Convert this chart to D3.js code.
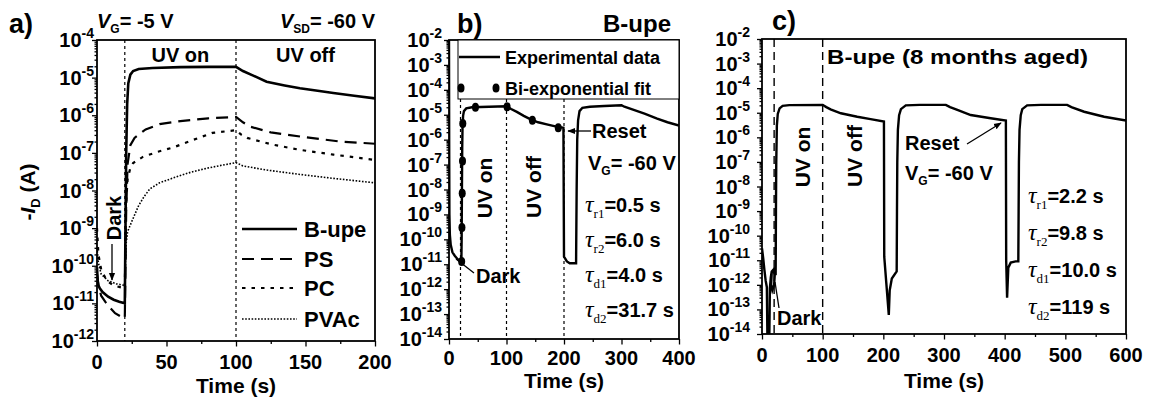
<!DOCTYPE html>
<html><head><meta charset="utf-8">
<script src="https://cdn.jsdelivr.net/npm/d3@7"></script>
<style>
body{margin:0;background:#fff}
svg{display:block}
text{font-family:"Liberation Sans",Arial,sans-serif;font-weight:bold;fill:#000}
.tau{font-family:"Liberation Serif","Times New Roman",serif;font-style:italic;font-weight:normal}
.ser{font-family:"Liberation Serif","Times New Roman",serif;font-weight:normal}
</style>
</head><body>
<svg id="chart" width="1154" height="397"></svg>
<script>
// ---------------- DATA ----------------
const seriesNames = ["B-upe", "PS", "PC", "PVAc"];
const aXTicks = [0, 50, 100, 150, 200];
const bXTicks = [0, 100, 200, 300, 400];
const cXTicks = [0, 100, 200, 300, 400, 500, 600];
const aYExp = [-12, -11, -10, -9, -8, -7, -6, -5, -4];
const bYExp = [-14, -13, -12, -11, -10, -9, -8, -7, -6, -5, -4, -3, -2];
const cYExp = [-14, -13, -12, -11, -10, -9, -8, -7, -6, -5, -4, -3, -2];

const aBupe = [[0,9e-11],[0.5,4e-11],[1,3e-11],[2,2.5e-11],[4,2e-11],[8,1.5e-11],[12,1.25e-11],[16,1.1e-11],[20,1e-11],[20.5,1e-9],[21,1e-7],[21.7,2e-6],[22.5,7e-6],[24,1.2e-5],[26,1.5e-5],[30,1.7e-5],[40,1.8e-5],[60,1.9e-5],[80,1.93e-5],[100,1.93e-5],[105,1.5e-5],[112,1.15e-5],[122,7.8e-6],[135,6.2e-6],[146,5.2e-6],[160,4.4e-6],[170,3.9e-6],[185,3.3e-6],[200,2.8e-6]];
const aPS = [[0,6e-11],[1,3e-11],[3,1.6e-11],[6,1.1e-11],[9,8e-12],[13,5.5e-12],[17,4.5e-12],[20,4e-12],[20.5,1e-10],[21,3e-9],[22,5e-8],[24,1.6e-7],[27,2.5e-7],[35,4.2e-7],[45,5.8e-7],[60,7e-7],[80,8.3e-7],[100,9e-7],[105,6.5e-7],[110,5e-7],[125,3.5e-7],[150,2.6e-7],[175,2e-7],[200,1.75e-7]];
const aPC = [[0,1e-9],[1,2e-10],[3,8e-11],[7,4e-11],[12,3e-11],[20,2.5e-11],[20.5,5e-10],[21,5e-9],[22,2e-8],[24,4e-8],[26,5.4e-8],[33,7.8e-8],[43,1.05e-7],[55,1.4e-7],[69,2.2e-7],[83,3.4e-7],[100,4e-7],[104,3e-7],[108,2.5e-7],[125,1.7e-7],[146,1.2e-7],[170,9e-8],[200,6.5e-8]];
const aPVAc = [[0,3e-10],[1,1.2e-10],[3,6e-11],[8,4e-11],[14,3.3e-11],[20,3e-11],[20.5,1.5e-10],[21,4e-10],[22,8e-10],[25,1.5e-9],[30,4e-9],[34,7e-9],[38,1.1e-8],[45,1.6e-8],[57,2.3e-8],[68,3.1e-8],[79,3.9e-8],[90,4.7e-8],[100,5.5e-8],[105,4.5e-8],[122,3.5e-8],[145,2.7e-8],[170,2.1e-8],[200,1.6e-8]];

const bExp = [[0,1e-2],[0.3,1e-6],[0.7,1e-9],[1.5,1.5e-10],[3,6e-11],[6,3e-11],[10,2.2e-11],[15,1.6e-11],[21.5,1.2e-11],[22,1e-10],[22.5,1e-8],[23,5e-7],[23.5,3e-6],[24.5,9e-6],[26,1.4e-5],[30,1.8e-5],[40,2e-5],[70,2.1e-5],[100,2.2e-5],[108,1.7e-5],[118,1.3e-5],[130,9e-6],[142,6.5e-6],[155,5e-6],[170,4.1e-6],[185,3.4e-6],[199,3e-6],[200,2e-11],[205,1.3e-11],[210,1.1e-11],[221,1.1e-11],[222,1e-8],[223,1e-6],[224.5,6e-6],[227,1.4e-5],[232,1.9e-5],[245,2.1e-5],[270,2.25e-5],[300,2.4e-5],[305,2.1e-5],[320,1.6e-5],[340,1.1e-5],[362,7e-6],[380,5e-6],[400,3.7e-6]];
const bFit = [[22,1.3e-11],[22.5,3e-10],[23,7e-9],[23.5,1.4e-7],[24,4.5e-6],[46,2e-5],[101,2.1e-5],[145,6e-6],[190,3e-6]];

const cExp = [[0,3e-11],[2,1.2e-11],[4,4e-12],[6,1.5e-12],[8,8e-13],[9,5e-15],[12,5e-15],[13,7e-13],[14.5,2e-12],[16,3.5e-12],[19,4.2e-12],[21,2.5e-12],[20,1e-12],[17,6e-13],[15,1e-12],[16,3e-12],[19,3.5e-12],[22.5,3e-12],[23,1e-9],[23.5,1e-7],[24.5,3e-6],[26,9e-6],[29,1.5e-5],[34,1.9e-5],[45,2.05e-5],[100,2.1e-5],[106,1.7e-5],[113,1.38e-5],[130,9.5e-6],[157,6.9e-6],[179,5.5e-6],[201,4.4e-6],[201.5,1.4e-11],[209,6e-14],[210.5,6e-13],[214,1.8e-12],[222,3.5e-12],[222.5,1e-9],[223,1e-7],[224,2e-6],[226,8e-6],[229,1.4e-5],[237,2e-5],[260,2.1e-5],[303,2.1e-5],[310,1.7e-5],[322,1.3e-5],[344,8.1e-6],[377,6e-6],[402,4.8e-6],[402.5,1e-11],[404,3e-13],[406,5e-12],[410,8e-12],[418,9e-12],[422.5,9e-12],[423,1e-9],[423.5,1e-7],[424.5,2e-6],[426.5,8e-6],[429,1.4e-5],[437,2e-5],[460,2.1e-5],[503,2.1e-5],[510,1.7e-5],[531,1.1e-5],[564,6.9e-6],[600,4.8e-6]];

const bTau = [["r1","0.5"],["r2","6.0"],["d1","4.0"],["d2","31.7"]];
const cTau = [["r1","2.2"],["r2","9.8"],["d1","10.0"],["d2","119"]];
const bMarkers = [20, 100, 200];
const aMarkers = [20, 100];
const cMarkers = [20, 100];

// ---------------- DRAW ----------------
const svg = d3.select("#chart");
const defs = svg.append("defs");
defs.append("marker").attr("id","arr").attr("viewBox","0 0 10 10")
  .attr("refX",9).attr("refY",5).attr("markerWidth",6).attr("markerHeight",6)
  .attr("orient","auto").append("path").attr("d","M0,1L10,5L0,9Z").attr("fill","#000");

function makePanel(p){
  const g = svg.append("g");
  const x = d3.scaleLinear().domain(p.xd).range([p.l,p.r]);
  const y = d3.scaleLog().domain(p.yd).range([p.b,p.t]);
  defs.append("clipPath").attr("id",p.id).append("rect")
    .attr("x",p.l).attr("y",p.t).attr("width",p.r-p.l).attr("height",p.b-p.t);
  const majors = p.yExp.map(e=>Math.pow(10,e));
  const minors = [];
  p.yExp.slice(0,-1).forEach(e=>{ for(let k=2;k<10;k++) minors.push(k*Math.pow(10,e)); });
  const ax = (sel)=>{ sel.select(".domain").remove(); sel.selectAll("line").attr("stroke","#000").attr("stroke-width",1.3); };
  g.append("g").attr("transform",`translate(${p.l},0)`).call(d3.axisLeft(y).tickValues(minors).tickSize(2.5).tickFormat("")).call(ax);
  g.append("g").attr("transform",`translate(${p.l},0)`).call(d3.axisLeft(y).tickValues(majors).tickSize(5).tickFormat("")).call(ax);
  const xMin = [];
  for(let i=0;i<p.xticks.length-1;i++) xMin.push((p.xticks[i]+p.xticks[i+1])/2);
  g.append("g").attr("transform",`translate(0,${p.b})`).call(d3.axisBottom(x).tickValues(xMin).tickSize(3).tickFormat("")).call(ax);
  g.append("g").attr("transform",`translate(0,${p.b})`).call(d3.axisBottom(x).tickValues(p.xticks).tickSize(5.5).tickFormat("")).call(ax);
  g.append("rect").attr("x",p.l).attr("y",p.t).attr("width",p.r-p.l).attr("height",p.b-p.t)
    .attr("fill","none").attr("stroke","#000").attr("stroke-width",1.8);
  // x tick labels
  g.selectAll(".xl").data(p.xticks).join("text").attr("x",d=>x(d)).attr("y",p.xlabY)
    .attr("text-anchor","middle").attr("font-size",20).text(d=>d);
  // y tick labels
  const yl = g.selectAll(".yl").data(p.yExp).join("text").attr("x",p.l-p.ylPad).attr("y",d=>y(Math.pow(10,d))+7)
    .attr("text-anchor","end").attr("font-size",20);
  yl.append("tspan").text("10");
  yl.append("tspan").attr("font-size",14).attr("dy",-9).text(d=>d);
  g.append("text").attr("x",(p.l+p.r)/2).attr("y",p.titleY).attr("text-anchor","middle").attr("font-size",21).text("Time (s)");
  const data = g.append("g").attr("clip-path",`url(#${p.id})`);
  const line = d3.line().x(d=>x(d[0])).y(d=>y(Math.max(d[1],1e-16)));
  return {x,y,g,data,line};
}

// ---- Panel a ----
const A = makePanel({id:"ca",l:97,r:375,t:40,b:341,xd:[0,200],yd:[1e-12,1e-4],yExp:aYExp,xticks:aXTicks,xlabY:369,titleY:393,ylPad:3});
A.data.selectAll(".mk").data(aMarkers).join("line").attr("x1",d=>A.x(d)).attr("x2",d=>A.x(d))
  .attr("y1",40).attr("y2",341).attr("stroke","#000").attr("stroke-width",1.2).attr("stroke-dasharray","3,3");
const aStyles = [
  {d:aBupe, w:2.6, dash:null},
  {d:aPS, w:2.2, dash:"12,7"},
  {d:aPC, w:2.2, dash:"3.5,6"},
  {d:aPVAc, w:1.6, dash:"1.6,1.6"}
];
aStyles.forEach(s=>{
  A.data.append("path").attr("d",A.line(s.d)).attr("fill","none").attr("stroke","#000")
   .attr("stroke-width",s.w).attr("stroke-dasharray",s.dash);
});
// legend a
const legY = [229,259,288,319];
seriesNames.forEach((n,i)=>{
  A.g.append("line").attr("x1",242).attr("x2",297).attr("y1",legY[i]).attr("y2",legY[i])
    .attr("stroke","#000").attr("stroke-width",aStyles[i].w).attr("stroke-dasharray",aStyles[i].dash);
  A.g.append("text").attr("x",304).attr("y",legY[i]+8).attr("font-size",22).text(n);
});
A.g.append("text").attr("x",A.x(60)).attr("y",62).attr("text-anchor","middle").attr("font-size",20).text("UV on");
A.g.append("text").attr("x",A.x(150)).attr("y",62).attr("text-anchor","middle").attr("font-size",20).text("UV off");
A.g.append("text").attr("transform","translate(121,218) rotate(-90)").attr("text-anchor","middle").attr("font-size",20).text("Dark");
A.g.append("line").attr("x1",112).attr("x2",112).attr("y1",244).attr("y2",280).attr("stroke","#000").attr("stroke-width",1.3).attr("marker-end","url(#arr)");
// y title
const yt = svg.append("text").attr("transform","translate(35,192) rotate(-90)").attr("text-anchor","middle").attr("font-size",21);
yt.append("tspan").text("-");
yt.append("tspan").attr("font-style","italic").text("I");
yt.append("tspan").attr("font-size",13).attr("dy",5).text("D");
yt.append("tspan").attr("dy",-5).text(" (A)");
// top labels
svg.append("text").attr("x",9).attr("y",33).attr("font-size",27).text("a)");
const vg = svg.append("text").attr("x",97).attr("y",28).attr("font-size",20);
vg.append("tspan").attr("font-style","italic").text("V");
vg.append("tspan").attr("font-size",12).attr("dy",5).text("G");
vg.append("tspan").attr("dy",-5).text("= -5 V");
const vsd = svg.append("text").attr("x",375).attr("y",28).attr("font-size",20).attr("text-anchor","end");
vsd.append("tspan").attr("font-style","italic").text("V");
vsd.append("tspan").attr("font-size",12).attr("dy",5).text("SD");
vsd.append("tspan").attr("dy",-5).text("= -60 V");

// ---- Panel b ----
const B = makePanel({id:"cb",l:449,r:679,t:40,b:339,xd:[0,400],yd:[1e-14,1e-2],yExp:bYExp,xticks:bXTicks,xlabY:365,titleY:388,ylPad:7});
B.data.selectAll(".mk").data(bMarkers).join("line").attr("x1",d=>B.x(d)).attr("x2",d=>B.x(d))
  .attr("y1",99).attr("y2",339).attr("stroke","#000").attr("stroke-width",1.2).attr("stroke-dasharray","3,3");
B.data.append("path").attr("d",B.line(bExp)).attr("fill","none").attr("stroke","#000").attr("stroke-width",2.4);
B.data.selectAll(".fit").data(bFit).join("ellipse").attr("cx",d=>B.x(d[0])).attr("cy",d=>B.y(d[1]))
  .attr("rx",3.5).attr("ry",4.5).attr("fill","#000");
// legend box
B.g.append("rect").attr("x",458).attr("y",40).attr("width",221).attr("height",59).attr("fill","#fff").attr("stroke","#000").attr("stroke-width",1);
B.g.append("line").attr("x1",459).attr("x2",500).attr("y1",57).attr("y2",57).attr("stroke","#000").attr("stroke-width",2.4);
B.g.append("text").attr("x",505).attr("y",64).attr("font-size",18).text("Experimental data");
[461,496].forEach(cx=>B.g.append("ellipse").attr("cx",cx).attr("cy",88).attr("rx",3.5).attr("ry",4.5).attr("fill","#000"));
B.g.append("text").attr("x",505).attr("y",95).attr("font-size",18).text("Bi-exponential fit");
svg.append("text").attr("x",457).attr("y",33).attr("font-size",27).text("b)");
svg.append("text").attr("x",671).attr("y",32).attr("font-size",24).attr("text-anchor","end").text("B-upe");
B.g.append("text").attr("transform","translate(492,188) rotate(-90)").attr("text-anchor","middle").attr("font-size",21).text("UV on");
B.g.append("text").attr("transform","translate(541,187) rotate(-90)").attr("text-anchor","middle").attr("font-size",21).text("UV off");
B.g.append("text").attr("x",592).attr("y",138).attr("font-size",20).text("Reset");
B.g.append("line").attr("x1",591).attr("x2",568).attr("y1",131).attr("y2",131).attr("stroke","#000").attr("stroke-width",1.3).attr("marker-end","url(#arr)");
const vgb = B.g.append("text").attr("x",588).attr("y",170).attr("font-size",20);
vgb.append("tspan").text("V"); vgb.append("tspan").attr("font-size",12).attr("dy",5).text("G"); vgb.append("tspan").attr("dy",-5).text("= -60 V");
B.g.append("text").attr("x",476).attr("y",283).attr("font-size",20).text("Dark");
B.g.append("line").attr("x1",474).attr("x2",456).attr("y1",273).attr("y2",259).attr("stroke","#000").attr("stroke-width",1.3);
function tauText(g,x,yb,t){
  const tx = g.append("text").attr("x",x).attr("y",yb).attr("font-size",20);
  tx.append("tspan").attr("class","tau").attr("font-size",24).text("τ");
  tx.append("tspan").attr("class","ser").attr("font-size",13).attr("dy",6).text(t[0]);
  tx.append("tspan").attr("dy",-6).text("=" + t[1] + " s");
}
bTau.forEach((t,i)=>tauText(B.g,585,212+i*35,t));

// ---- Panel c ----
const C = makePanel({id:"cc",l:762,r:1126,t:39,b:334,xd:[0,600],yd:[1e-14,1e-2],yExp:cYExp,xticks:cXTicks,xlabY:362,titleY:388,ylPad:12});
C.data.selectAll(".mk").data(cMarkers).join("line").attr("x1",d=>C.x(d)).attr("x2",d=>C.x(d))
  .attr("y1",39).attr("y2",334).attr("stroke","#000").attr("stroke-width",1.4).attr("stroke-dasharray","8,5");
C.data.append("path").attr("d",C.line(cExp)).attr("fill","none").attr("stroke","#000").attr("stroke-width",2.4);
svg.append("text").attr("x",772).attr("y",30).attr("font-size",27).text("c)");
C.g.append("text").attr("x",827).attr("y",64).attr("font-size",21).attr("textLength",261).attr("lengthAdjust","spacingAndGlyphs").text("B-upe (8 months aged)");
C.g.append("text").attr("transform","translate(810,157) rotate(-90)").attr("text-anchor","middle").attr("font-size",21).text("UV on");
C.g.append("text").attr("transform","translate(862,156) rotate(-90)").attr("text-anchor","middle").attr("font-size",21).text("UV off");
C.g.append("text").attr("x",905).attr("y",150).attr("font-size",20).text("Reset");
C.g.append("line").attr("x1",967).attr("x2",1001).attr("y1",144).attr("y2",123).attr("stroke","#000").attr("stroke-width",1.3).attr("marker-end","url(#arr)");
const vgc = C.g.append("text").attr("x",905).attr("y",180).attr("font-size",20);
vgc.append("tspan").text("V"); vgc.append("tspan").attr("font-size",12).attr("dy",5).text("G"); vgc.append("tspan").attr("dy",-5).text("= -60 V");
C.g.append("text").attr("x",777).attr("y",325).attr("font-size",20).text("Dark");
C.g.append("line").attr("x1",779).attr("x2",775).attr("y1",308).attr("y2",282).attr("stroke","#000").attr("stroke-width",1.3);
cTau.forEach((t,i)=>tauText(C.g,1028,203+i*37,t));
</script>
</body></html>
